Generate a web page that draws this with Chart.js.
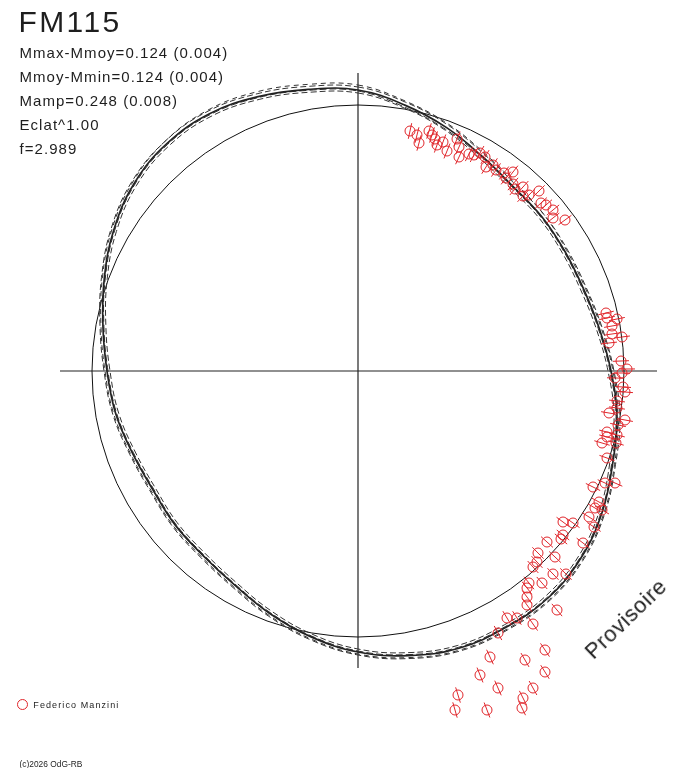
<!DOCTYPE html>
<html>
<head>
<meta charset="utf-8">
<script src="https://cdn.jsdelivr.net/npm/chart.js@4.4.1/dist/chart.umd.min.js"></script>
<style>
html,body{margin:0;padding:0;background:#fff;}
#wrap{position:relative;width:688px;height:768px;overflow:hidden;background:#fff;}
#c{position:absolute;left:0;top:0;}
.t{position:absolute;font-family:"Liberation Sans",Arial,sans-serif;color:#1e1e1e;line-height:1;white-space:nowrap;}
.s{font-size:15px;letter-spacing:1.05px;left:19.5px;}
</style>
</head>
<body>
<div id="wrap">
<canvas id="c" width="688" height="768"></canvas>
<div class="t" style="left:18.5px;top:6.6px;font-size:30px;letter-spacing:2.4px;">FM115</div>
<div class="t s" style="top:44.6px;">Mmax-Mmoy=0.124 (0.004)</div>
<div class="t s" style="top:68.6px;">Mmoy-Mmin=0.124 (0.004)</div>
<div class="t s" style="top:92.6px;">Mamp=0.248 (0.008)</div>
<div class="t s" style="top:117.3px;">Eclat^1.00</div>
<div class="t s" style="top:141.3px;">f=2.989</div>
<div style="position:absolute;left:17px;top:699px;width:9px;height:9px;border:1px solid #e0262b;border-radius:50%;"></div>
<div class="t" style="left:33.3px;top:701.4px;font-size:9px;letter-spacing:1.1px;">Federico Manzini</div>
<div class="t" style="left:19.5px;top:759.6px;font-size:8.4px;">(c)2026 OdG-RB</div>
<div class="t" style="left:574px;top:608px;width:104px;text-align:center;font-size:22px;letter-spacing:0.6px;transform:rotate(-44deg);transform-origin:50% 50%;">Provisoire</div>
</div>
<script>
// Phase angles (degrees, clockwise from top) for the fitted curves
const phaseDeg = [0,10,20,30,40,50,60,70,80,90,100,110,120,130,140,150,160,170,180,190,200,210,220,230,240,250,260,270,280,290,300,310,320,330,340,350];
// Main fitted light curve (polar radius, unit circle = 266)
const fitMain = [281,270,259,248,241,240,239,240,245,253,263,271,282,291,296,296,295,289,281,270,258,247,241,239,237,240,246,251,259,270,282,292,297,297,292,286];
// Alternate fits (dashed)
const fitAlt1 = [284,273,262,251,244,243,242,243,248,256,266,274,285,294,299,299,298,292,284,273,261,250,244,242,240,243,249,254,262,273,285,295,300,300,295,289];
const fitAlt2 = [278,267,256,245,238,237,236,237,242,250,260,268,279,288,293,293,292,286,278,267,255,244,238,236,234,237,243,248,256,267,279,289,294,294,289,283];
const fitAlt3 = [286,274,263,252,245,243,241,242,247,255,264,273,284,293,298,298,297,291,283,272,260,249,243,241,239,242,248,253,261,272,284,294,300,301,297,291];
const fitAlt4 = [280,268,257,247,240,239,238,239,244,252,262,270,281,290,295,295,294,288,280,269,257,246,240,238,236,239,245,250,258,269,281,291,296,296,291,285];
// Reference circle radius
const circleR = 266;
// Observations (x, y relative to centre)
const obsX = [52,59,61,71,74,77,79,85,89,99,101,101,111,116,122,127,128,135,138,146,155,148,155,157,165,165,171,181,183,188,195,195,207,
  248,249,259,254,254,264,251,263,269,264,257,265,267,260,259,259,251,267,249,249,244,258,259,
  249,235,247,257,241,237,244,231,236,205,215,205,203,225,189,180,197,179,175,195,208,171,169,184,169,169,199,149,159,175,140,132,187,167,187,122,140,175,100,165,164,97,129];
const obsY = [240,236,228,240,236,232,226,229,220,232,224,214,217,216,218,214,204,206,201,198,199,193,187,182,184,175,176,180,168,166,161,153,151,
  58,53,52,45,37,34,28,10,2,-2,-7,-16,-21,-54,-30,-37,-42,-49,-61,-66,-72,-72,-64,
  -87,-116,-112,-112,-131,-137,-139,-146,-156,-151,-152,-164,-168,-172,-171,-182,-186,-191,-196,-203,-203,-212,-217,-212,-226,-234,-239,-247,-247,-253,-262,-286,-279,-289,-301,-304,-317,-317,-324,-327,-337,-339,-339];
const errHalf = 8;

const RED = '#e0262b';
const toXY = (deg, r) => ({x: r*Math.sin(deg*Math.PI/180), y: r*Math.cos(deg*Math.PI/180)});

function closedCurve(radii){
  const n = phaseDeg.length;
  const pts = [toXY(phaseDeg[n-1]-360, radii[n-1])];
  for (let i=0;i<n;i++) pts.push(toXY(phaseDeg[i], radii[i]));
  pts.push(toXY(360, radii[0]));
  pts.push(toXY(360+phaseDeg[1], radii[1]));
  return pts;
}
function curveDataset(radii, color, width, dash){
  const data = closedCurve(radii);
  const len = data.length;
  return {
    type:'line', data, borderColor:color, borderWidth:width, borderDash:dash,
    pointRadius:0, tension:0.4, fill:false,
    segment:{ borderColor: ctx => (ctx.p0DataIndex === 0 || ctx.p1DataIndex === len-1) ? 'rgba(0,0,0,0)' : undefined }
  };
}
const circlePts = [];
for (let a=0; a<=360; a+=5) circlePts.push(toXY(a, circleR));

const errPts = [];
const obsPts = [];
for (let i=0;i<obsX.length;i++){
  const x=obsX[i], y=obsY[i], r=Math.hypot(x,y), ux=x/r, uy=y/r;
  obsPts.push({x,y});
  errPts.push({x:x-ux*errHalf,y:y-uy*errHalf},{x:x+ux*errHalf,y:y+uy*errHalf},{x:null,y:null});
}

new Chart(document.getElementById('c'), {
  type:'scatter',
  data:{ datasets:[
    {type:'scatter', data:obsPts, pointRadius:5, pointHoverRadius:5, pointBorderWidth:1, pointBorderColor:RED, pointBackgroundColor:'rgba(0,0,0,0)', showLine:false},
    {type:'line', data:errPts, borderColor:RED, borderWidth:1, pointRadius:0, spanGaps:false, tension:0},
    curveDataset(fitMain, '#222', 1.7, []),
    curveDataset(fitAlt1, '#333', 1, [6,3]),
    curveDataset(fitAlt2, '#333', 1, [6,3]),
    curveDataset(fitAlt3, '#333', 1, [5,4]),
    curveDataset(fitAlt4, '#333', 1, [7,3]),
    {type:'line', data:circlePts, borderColor:'#111', borderWidth:1, pointRadius:0, tension:0},
    {type:'line', data:[{x:-298,y:0},{x:299,y:0}], borderColor:'#222', borderWidth:1.2, pointRadius:0},
    {type:'line', data:[{x:0,y:-297},{x:0,y:298}], borderColor:'#222', borderWidth:1.2, pointRadius:0}
  ]},
  options:{
    responsive:false, animation:false, events:[],
    layout:{padding:0, autoPadding:false},
    plugins:{legend:{display:false}, tooltip:{enabled:false}, title:{display:false}},
    scales:{
      x:{type:'linear', min:-358, max:330, display:false},
      y:{type:'linear', min:-397, max:371, display:false}
    }
  }
});
</script>
</body>
</html>
